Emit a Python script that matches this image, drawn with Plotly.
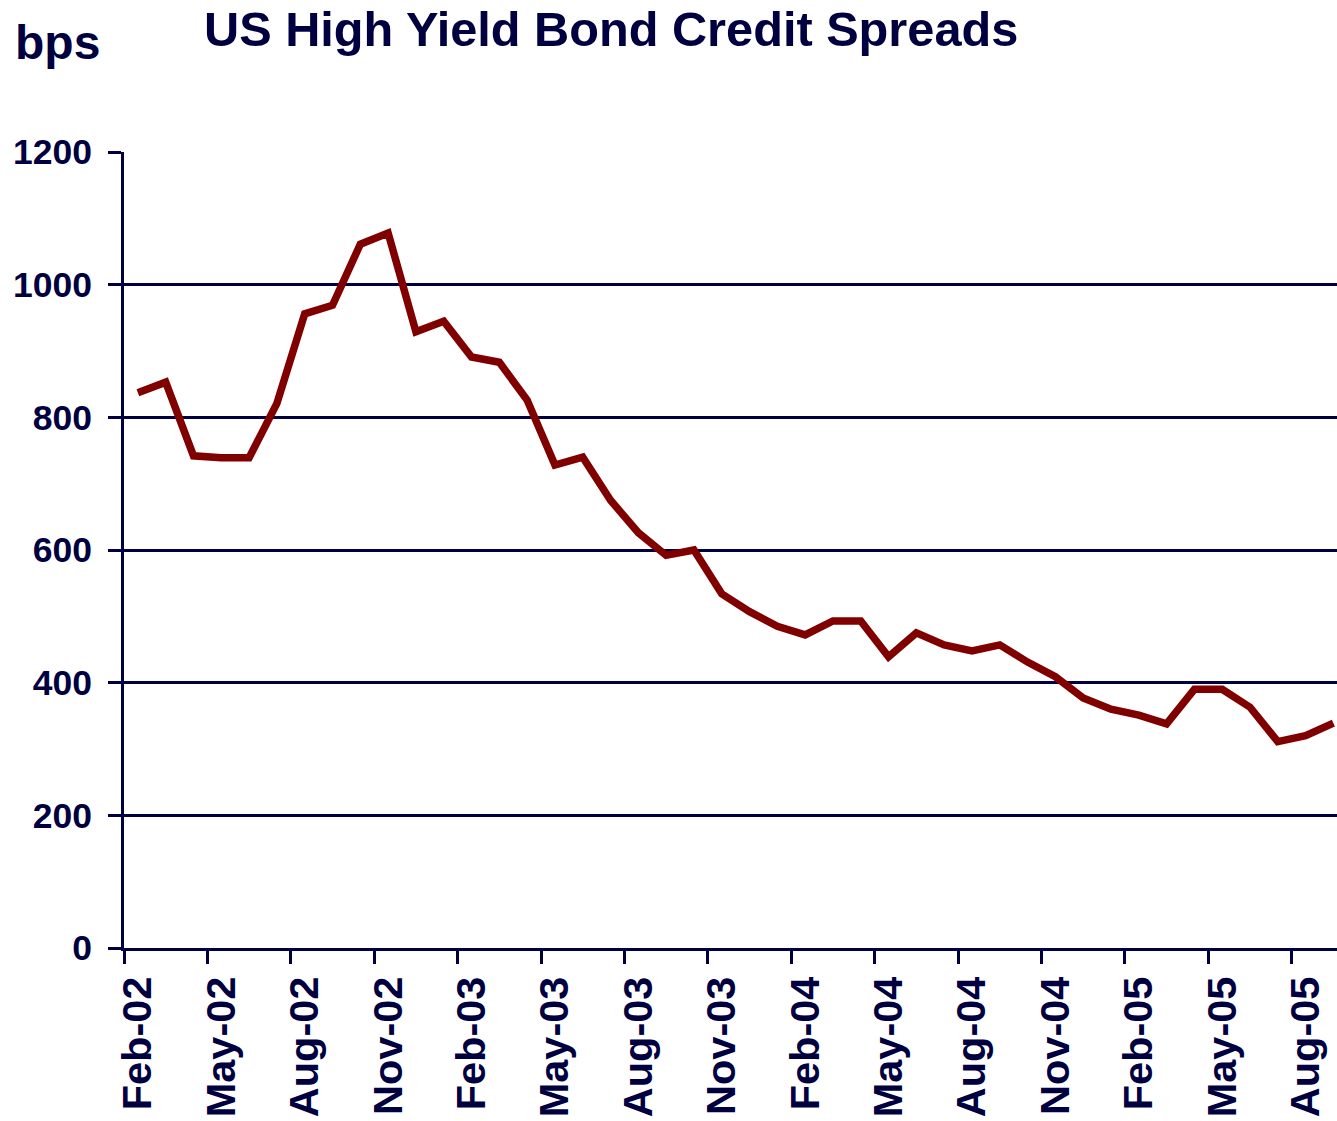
import plotly.graph_objects as go

months = [
    "Feb-02", "Mar-02", "Apr-02", "May-02", "Jun-02", "Jul-02", "Aug-02", "Sep-02", "Oct-02", "Nov-02", "Dec-02",
    "Jan-03", "Feb-03", "Mar-03", "Apr-03", "May-03", "Jun-03", "Jul-03", "Aug-03", "Sep-03", "Oct-03", "Nov-03", "Dec-03",
    "Jan-04", "Feb-04", "Mar-04", "Apr-04", "May-04", "Jun-04", "Jul-04", "Aug-04", "Sep-04", "Oct-04", "Nov-04", "Dec-04",
    "Jan-05", "Feb-05", "Mar-05", "Apr-05", "May-05", "Jun-05", "Jul-05", "Aug-05", "Sep-05",
]
spreads = [
    837, 853, 742, 739, 739, 821, 956, 969, 1061, 1078, 929,
    945, 891, 883, 826, 728, 740, 675, 626, 592, 600, 534, 507,
    485, 472, 493, 493, 439, 475, 457, 448, 457, 431, 409, 377,
    360, 351, 338, 390, 390, 363, 311, 320, 339,
]
y_ticks = [0, 200, 400, 600, 800, 1000, 1200]

NAVY = "#000040"
FONT = "Liberation Sans, Arial, sans-serif"

fig = go.Figure()
fig.add_trace(go.Scatter(
    x=months, y=spreads, mode="lines",
    line=dict(color="#800000", width=7.5),
    showlegend=False, hoverinfo="skip",
))

W, H = 1337, 1121
L, R, T, B = 124, 0, 152, 173

def px(xp):
    return (xp - L) / (W - L - R)

def py(yp):
    return (H - B - yp) / (H - T - B)

fig.update_layout(
    width=W, height=H, autosize=False,
    margin=dict(l=L, r=R, t=T, b=B, pad=0, autoexpand=False),
    paper_bgcolor="white", plot_bgcolor="white",
    font=dict(family=FONT, color=NAVY),
    xaxis=dict(
        type="category", categoryorder="array", categoryarray=months,
        range=[-0.5, 43.13], automargin=False,
        tickson="boundaries", dtick=3, tick0=0,
        ticks="outside", ticklen=13, tickwidth=3, tickcolor=NAVY,
        tickangle=-90, tickfont=dict(family=FONT, size=41.5, color=NAVY, weight="bold"),
        ticklabelstandoff=9,
        showgrid=False, zeroline=False,
        showline=True, linecolor=NAVY, linewidth=3,
    ),
    yaxis=dict(
        range=[0, 1200], tickvals=y_ticks, automargin=False,
        ticks="outside", ticklen=13, tickwidth=3, tickcolor=NAVY,
        tickfont=dict(family=FONT, size=35.5, color=NAVY, weight="bold"),
        ticklabelstandoff=9,
        showgrid=True, gridcolor=NAVY, gridwidth=2.5,
        zeroline=False,
        showline=True, linecolor=NAVY, linewidth=3,
    ),
    annotations=[
        dict(text="US High Yield Bond Credit Spreads", xref="paper", yref="paper",
             x=px(611), y=py(0), xanchor="center", yanchor="top", showarrow=False,
             font=dict(family=FONT, size=48.7, color=NAVY, weight="bold")),
        dict(text="bps", xref="paper", yref="paper",
             x=px(57.5), y=py(43), xanchor="center", yanchor="middle", showarrow=False,
             font=dict(family=FONT, size=48, color=NAVY, weight="bold")),
    ],
)

fig.write_html(
    "out.html",
    config={"responsive": False, "displayModeBar": False},
    post_script="document.body.style.margin='0px';",
)
